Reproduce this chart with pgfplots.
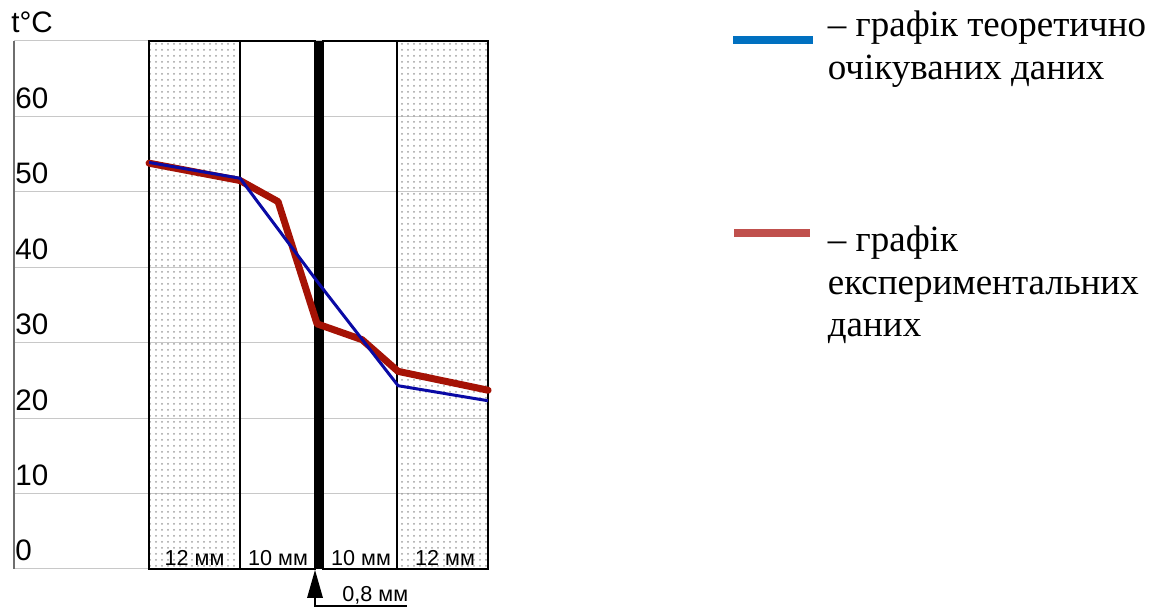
\documentclass[border=0pt]{standalone}
\usepackage{fontspec}
\setmainfont{Liberation Serif}
\newfontfamily\arial{Liberation Sans}
\usepackage{pgfplots}
\pgfplotsset{compat=1.18}
\usetikzlibrary{patterns}
\definecolor{theo}{RGB}{10,10,165}
\definecolor{expc}{RGB}{165,18,5}
\definecolor{legblue}{RGB}{0,112,192}
\definecolor{legred}{RGB}{192,80,77}
\definecolor{gridc}{RGB}{200,200,200}
\definecolor{axc}{RGB}{110,110,110}
\begin{document}
\begin{tikzpicture}
\useasboundingbox (0,0) rectangle (581pt,304pt);
\begin{axis}[
  at={(7pt,19.5pt)}, anchor=south west,
  scale only axis, width=237pt, height=264pt,
  xmin=14, xmax=488, ymin=0, ymax=70,
  xtick=\empty,
  ytick={0,10,20,30,40,50,60,70},
  yticklabels={0,10,20,30,40,50,60,},
  ymajorgrids, grid style={gridc, line width=0.5pt},
  major tick length=0pt,
  axis line style={draw=none},
  clip=false,
  /pgf/number format/assume math mode=true,
  yticklabel style={anchor=base west, inner xsep=0.5pt, yshift=4pt, font=\arial\fontsize{14.8}{17}\selectfont},
]
\fill[pattern=dots, pattern color=gray!75] (axis cs:149,0) rectangle (axis cs:240,70);
\fill[pattern=dots, pattern color=gray!75] (axis cs:397,0) rectangle (axis cs:488,70);
\draw[black, line width=0.9pt] (axis cs:149,0) rectangle (axis cs:240,70);
\draw[black, line width=0.9pt] (axis cs:240,0) rectangle (axis cs:315,70);
\draw[black, line width=0.9pt] (axis cs:323,0) rectangle (axis cs:397,70);
\draw[black, line width=0.9pt] (axis cs:397,0) rectangle (axis cs:488,70);
\fill[black] (axis cs:315,0) rectangle (axis cs:323,70);
\draw[axc, line width=1pt] (axis cs:14,0) -- (axis cs:14,70);
\node[anchor=base, yshift=1.5pt, font=\arial\fontsize{10.8}{13}\selectfont] at (axis cs:194.5,0) {12 мм};
\node[anchor=base, yshift=1.5pt, font=\arial\fontsize{10.8}{13}\selectfont] at (axis cs:278,0) {10 мм};
\node[anchor=base, yshift=1.5pt, font=\arial\fontsize{10.8}{13}\selectfont] at (axis cs:361,0) {10 мм};
\node[anchor=base, yshift=1.5pt, font=\arial\fontsize{10.8}{13}\selectfont] at (axis cs:445,0) {12 мм};
\addplot[expc, line width=3.5pt, line join=round, line cap=round] coordinates {
 (149,53.8) (240,51.5) (278,48.7) (317,32.5) (362,30.4) (398,26.2) (488,23.7)
};
\addplot[theo, line width=1.5pt, line join=round] coordinates {
 (149,53.9) (240,51.8) (319,37.8) (398,24.3) (488,22.3)
};
\end{axis}
% y unit label
\node[anchor=base west, inner sep=0pt, font=\arial\fontsize{14.8}{17}\selectfont] at (5.5pt,287.8pt) {t°C};
% arrow and thickness label
\fill[black] (157.5pt,19pt) -- (153.5pt,5pt) -- (161.5pt,5pt) -- cycle;
\draw[black, line width=0.75pt] (157.5pt,5pt) -- (157.5pt,1pt) -- (203.5pt,1pt);
\node[anchor=base west, inner sep=0pt, font=\arial\fontsize{10.8}{13}\selectfont] at (171pt,3pt) {0,8 мм};
% legend
\draw[legblue, line width=4pt] (366.5pt,284pt) -- (406.5pt,284pt);
\draw[legred, line width=4pt] (367pt,187.4pt) -- (405pt,187.4pt);
\begin{scope}[every node/.style={anchor=base west, inner sep=0pt, font=\fontsize{18.5}{21.5}\selectfont}]
\node at (413.75pt,285.65pt) {– графік теоретично};
\node at (413.75pt,264pt) {очікуваних даних};
\node at (413.75pt,178pt) {– графік};
\node at (413.75pt,156.5pt) {експериментальних};
\node at (413.75pt,135.5pt) {даних};
\end{scope}
\end{tikzpicture}
\end{document}
